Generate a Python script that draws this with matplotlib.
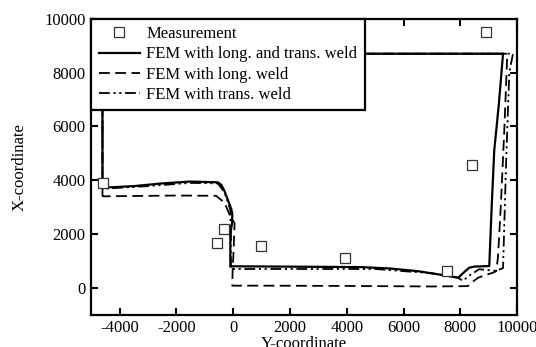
import matplotlib
matplotlib.use("Agg")
import matplotlib.pyplot as plt

# Measurement points
meas_y = [-4580, -330, -560, 990, 3920, 7535, 8400, 8910]
meas_x = [3900, 2180, 1660, 1560, 1100, 620, 4570, 9490]

# FEM with long. and trans. weld (solid)
s_y = [-4600, -4600, 9500, 9350, 9190, 9100, 9015, 8800, 8500, 8310, 8150, 7920,
       7400, 6500, 5500, 4500, 3000, 1500, 0, -100, -100, -40, -30, -70,
       -310, -420, -540, -1500, -2500, -3500, -4600]
s_x = [3720, 8700, 8700, 6800, 5100, 3000, 810, 800, 790, 746, 600, 375,
       470, 620, 720, 770, 780, 790, 800, 790, 2000, 2400, 2750, 2940,
       3610, 3830, 3920, 3950, 3880, 3780, 3720]

# FEM with long. weld (dashed)
d_y = [-4600, -4600, 9650, 9550, 9420, 9320, 9260, 9140, 8900, 8620, 8400, 8260,
       7000, 4000, 1000, -30, -20, 20, 50, -105, -310, -600, -2000, -4600]
d_x = [3400, 8700, 8700, 6000, 3000, 1120, 620, 560, 480, 373, 200, 63,
       50, 70, 80, 80, 600, 1500, 2400, 2675, 3170, 3420, 3430, 3400]

# FEM with trans. weld (dash-dot-dot)
t_y = [-4600, -4600, 9850, 9720, 9610, 9500, 9260, 8660, 8300, 8090, 7900,
       7000, 5000, 2000, 0, -80, -80, -100, -310, -540, -1500, -3000, -4600]
t_x = [3680, 8700, 8700, 8000, 4730, 735, 630, 690, 450, 260, 380,
       540, 700, 700, 700, 700, 2000, 2900, 3560, 3880, 3900, 3780, 3680]

x_ticks = [-4000, -2000, 0, 2000, 4000, 6000, 8000, 10000]
y_ticks = [0, 2000, 4000, 6000, 8000, 10000]

plt.rcParams['font.family'] = ['Liberation Serif', 'DejaVu Serif']
plt.rcParams['axes.unicode_minus'] = False
fig = plt.figure(figsize=(5.36, 3.47), dpi=100)
ax = fig.add_axes([0.170, 0.093, 0.795, 0.853])

ax.plot(meas_y, meas_x, linestyle='none', marker='s', markersize=6.5,
        markerfacecolor='white', markeredgecolor='#333333', markeredgewidth=0.9,
        label='Measurement', zorder=5)
ax.plot(s_y, s_x, color='black', lw=1.6, label='FEM with long. and trans. weld')
ax.plot(d_y, d_x, color='black', lw=1.3, dashes=(6, 3),
        label='FEM with long. weld')
ax.plot(t_y, t_x, color='black', lw=1.3, dashes=(6, 2, 1.2, 2, 1.2, 2),
        label='FEM with trans. weld')

ax.set_xlim(-5000, 10000)
ax.set_ylim(-1000, 10000)
ax.set_xticks(x_ticks)
ax.set_yticks(y_ticks)
ax.tick_params(direction='in', length=5, width=1.5, labelsize=12,
               top=True, right=True, pad=4)
for sp in ax.spines.values():
    sp.set_linewidth(1.6)

ax.set_xlabel('Y-coordinate', fontsize=12, labelpad=0)
ax.set_ylabel('X-coordinate', fontsize=12, labelpad=12)

leg = ax.legend(loc='upper left', bbox_to_anchor=(0, 1), borderaxespad=0,
                fontsize=12, fancybox=False, framealpha=1, edgecolor='black',
                handlelength=2.5, handletextpad=0.35, labelspacing=0.25,
                borderpad=0.45)
leg.get_frame().set_linewidth(1.6)
leg.set_zorder(10)

fig.savefig('out.png', dpi=100)
